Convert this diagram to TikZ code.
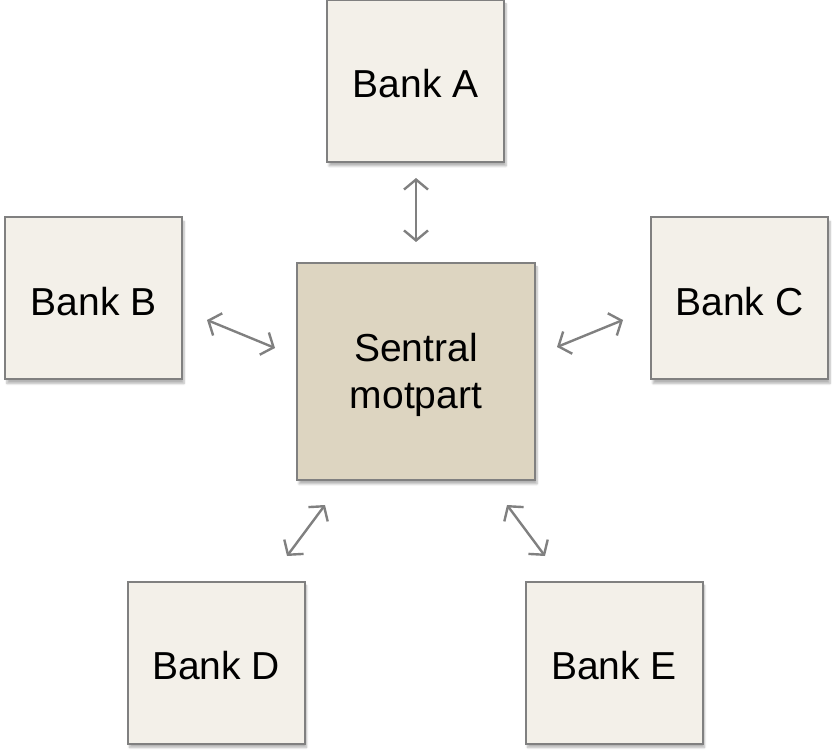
\documentclass[tikz,border=0pt]{standalone}
\usepackage{fontspec}
\setmainfont{Liberation Sans}
\usetikzlibrary{arrows.meta,shadows.blur}
\definecolor{boxlight}{HTML}{F3F0E9}
\definecolor{boxdark}{HTML}{DDD5C1}
\definecolor{edge}{HTML}{808080}
\newcommand{\lowtext}[2]{\raisebox{-#1}[\height][\depth]{#2}}
\begin{document}
\begin{tikzpicture}[x=1pt,y=1pt,
  bank/.style={draw=edge,line width=2pt,fill=boxlight,minimum width=177pt,minimum height=162pt,
    inner sep=0pt,font=\fontsize{39}{47}\selectfont,align=center,
    blur shadow={shadow xshift=2pt,shadow yshift=-4pt,shadow blur steps=6,shadow opacity=30}},
  central/.style={bank,fill=boxdark,minimum width=238pt,minimum height=217pt},
  link/.style={draw=edge,line width=2.4pt,{Straight Barb[length=10pt,width=24pt]}-{Straight Barb[length=10pt,width=24pt]}}]
\useasboundingbox (0,0) rectangle (832,750);
\node[bank] (A) at (415.5,669) {\lowtext{3pt}{Bank A}};
\node[bank] (B) at (93.5,451.5) {\lowtext{3pt}{Bank B}};
\node[bank] (C) at (739.5,451.5) {\lowtext{3pt}{Bank C}};
\node[central] (M) at (416,378.5) {\lowtext{4pt}{\begin{tabular}{@{}c@{}}Sentral\\motpart\end{tabular}}};
\node[bank] (D) at (216,87.5) {\lowtext{3pt}{Bank D}};
\node[bank] (E) at (614,87.5) {\lowtext{3pt}{Bank E}};
\coordinate (a1) at (416,572);
\coordinate (a2) at (416,508);
\coordinate (b1) at (207,430);
\coordinate (b2) at (275,402);
\coordinate (c1) at (557,403);
\coordinate (c2) at (623,430);
\coordinate (d1) at (287,194);
\coordinate (d2) at (325,245);
\coordinate (e1) at (507,245);
\coordinate (e2) at (545,194);
\draw[link] (a1) -- (a2);
\draw[link] (b1) -- (b2);
\draw[link] (c1) -- (c2);
\draw[link] (d1) -- (d2);
\draw[link] (e1) -- (e2);
\end{tikzpicture}
\end{document}
